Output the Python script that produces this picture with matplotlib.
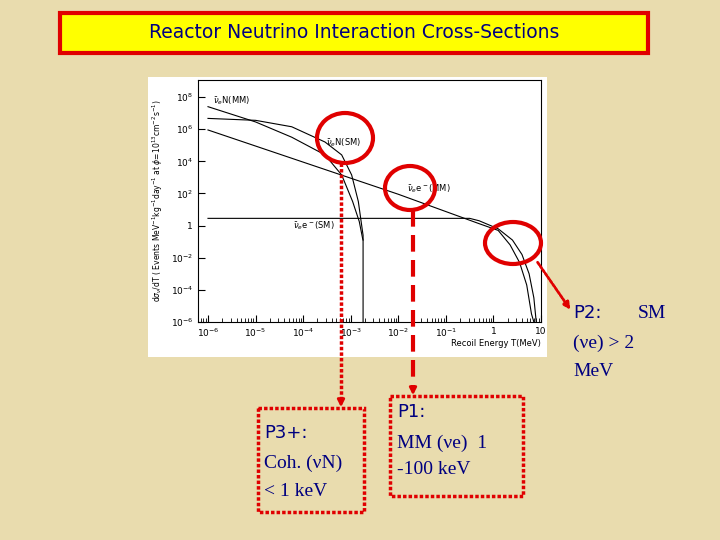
import matplotlib
matplotlib.use("Agg")
import matplotlib.pyplot as plt
import numpy as np
from matplotlib.patches import Rectangle, Ellipse, FancyArrowPatch

# data (log10 values)
nuN_SM_x = [-6, -5, -4.24, -3.54, -3.19, -2.98, -2.84, -2.75, -2.74, -2.74]
nuN_SM_y = [6.67, 6.55, 6.15, 5.2, 4.4, 3.15, 1.5, -0.4, -0.6, -6]
nuN_MM_x = [-6, -5, -4.24, -3.54, -3.19, -2.96, -2.82, -2.75, -2.74]
nuN_MM_y = [7.4, 6.45, 5.5, 4.4, 3.15, 1.5, 0.25, -0.8, -0.9]
nue_MM_x = [-6, -4, -2, -0.32, 0.1, 0.35, 0.55, 0.7, 0.8, 0.85]
nue_MM_y = [5.95, 3.95, 1.95, 0.14, -0.3, -1.2, -2.3, -3.7, -5.5, -6]
nue_SM_x = [-6, -0.5, -0.3, 0.1, 0.4, 0.6, 0.75, 0.85, 0.9]
nue_SM_y = [0.45, 0.45, 0.3, -0.2, -0.9, -1.8, -3.0, -4.5, -6]

W, H = 720, 540
fig = plt.figure(figsize=(7.2, 5.4), dpi=100)
fig.patch.set_facecolor("#e9dcae")
bg = fig.add_axes([0, 0, 1, 1]); bg.set_xlim(0, W); bg.set_ylim(H, 0); bg.axis("off")
bg.add_patch(Rectangle((60, 13), 588, 40, facecolor="#ffff00", edgecolor="#e00000", lw=3))
bg.text(354, 33, "Reactor Neutrino Interaction Cross-Sections", ha="center", va="center",
        fontsize=13.5, color="#000080", family="DejaVu Sans")
bg.add_patch(Rectangle((148, 77), 399, 280, facecolor="white", edgecolor="none"))

ax = fig.add_axes([198/W, 1-322/H, (541-198)/W, (322-80)/H])
ax.set_facecolor("white")
for xs, ys in [(nuN_SM_x, nuN_SM_y), (nuN_MM_x, nuN_MM_y), (nue_MM_x, nue_MM_y), (nue_SM_x, nue_SM_y)]:
    ax.plot(10**np.array(xs, float), 10**np.array(ys, float), color="black", lw=0.8)
ax.set_xscale("log"); ax.set_yscale("log")
ax.set_xlim(10**-6.21, 10); ax.set_ylim(1e-6, 10**9.06)
ax.set_xticks([1e-6, 1e-5, 1e-4, 1e-3, 1e-2, 1e-1, 1, 10])
ax.set_xticklabels(["$10^{-6}$", "$10^{-5}$", "$10^{-4}$", "$10^{-3}$", "$10^{-2}$", "$10^{-1}$", "1", "10"])
ax.set_yticks([1e-6, 1e-4, 1e-2, 1, 1e2, 1e4, 1e6, 1e8])
ax.set_yticklabels(["$10^{-6}$", "$10^{-4}$", "$10^{-2}$", "1", "$10^{2}$", "$10^{4}$", "$10^{6}$", "$10^{8}$"])
ax.tick_params(labelsize=6.5, direction="in", length=5)
ax.tick_params(which="minor", direction="in", length=3)
ax.text(1.0, -0.1, "Recoil Energy T(MeV)", transform=ax.transAxes, ha="right", fontsize=6)
ax.set_ylabel(r"d$\sigma_\nu$/dT ( Events MeV$^{-1}$kg$^{-1}$day$^{-1}$ at $\phi$=10$^{13}$cm$^{-2}$s$^{-1}$)", fontsize=5.5)
ax.text(1.3e-6, 10**7.6, r"$\bar\nu_e$N(MM)", fontsize=6)
ax.text(3e-4, 10**5, r"$\bar\nu_e$N(SM)", fontsize=6)
ax.text(1.5e-2, 10**2.1, r"$\bar\nu_e$e$^-$(MM)", fontsize=6)
ax.text(6e-5, 10**-0.2, r"$\bar\nu_e$e$^-$(SM)", fontsize=6)

ov = fig.add_axes([0, 0, 1, 1]); ov.set_xlim(0, W); ov.set_ylim(H, 0); ov.axis("off")
ov.patch.set_alpha(0)
red = "#e00000"
for (cx, cy, w, h) in [(345, 138, 56, 50), (410, 188, 50, 44), (513, 243, 56, 42)]:
    ov.add_patch(Ellipse((cx, cy), w, h, fill=False, edgecolor=red, lw=3))
ov.plot([341, 341], [163, 400], color=red, lw=2.5, ls=(0, (1, 0.6)))
ov.plot([413, 413], [210, 388], color=red, lw=3, ls=(0, (4, 2)))
ov.add_patch(FancyArrowPatch((536, 260), (572, 312), arrowstyle="-|>", mutation_scale=10,
                             color=red, lw=2, ls=(0, (1, 0.6))))
ov.annotate("", xy=(341, 410), xytext=(341, 398), arrowprops=dict(arrowstyle="-|>", color=red, lw=2))
ov.annotate("", xy=(413, 398), xytext=(413, 386), arrowprops=dict(arrowstyle="-|>", color=red, lw=2))

ov.add_patch(Rectangle((258, 408), 106, 104, fill=False, edgecolor=red, lw=2.5, ls=(0, (1, 0.6))))
ov.add_patch(Rectangle((390, 396), 133, 100, fill=False, edgecolor=red, lw=2.5, ls=(0, (1, 0.6))))
nav = "#000080"
ov.text(264, 433, "P3+:", fontsize=13, color=nav, va="center", family="DejaVu Sans")
ov.text(264, 463, "Coh. (νN)", fontsize=14, color=nav, va="center", family="Liberation Serif")
ov.text(264, 492, "< 1 keV", fontsize=14, color=nav, va="center", family="Liberation Serif")
ov.text(397, 412, "P1:", fontsize=13, color=nav, va="center", family="DejaVu Sans")
ov.text(397, 443, "MM (νe)  1", fontsize=14, color=nav, va="center", family="Liberation Serif")
ov.text(397, 470, "-100 keV", fontsize=14, color=nav, va="center", family="Liberation Serif")
ov.text(573, 313, "P2:", fontsize=13, color=nav, va="center", family="DejaVu Sans")
ov.text(666, 313, "SM", fontsize=14, color=nav, va="center", ha="right", family="Liberation Serif")
ov.text(573, 343, "(νe) > 2", fontsize=14, color=nav, va="center", family="Liberation Serif")
ov.text(573, 371, "MeV", fontsize=14, color=nav, va="center", family="Liberation Serif")

fig.savefig("out.png", dpi=100, facecolor=fig.get_facecolor())
